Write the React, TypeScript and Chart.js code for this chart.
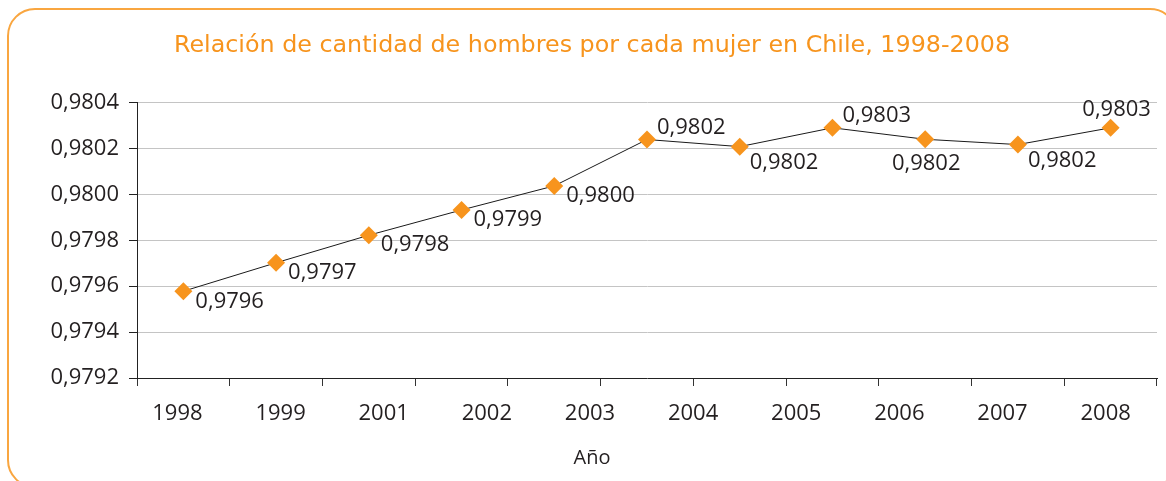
import { useEffect, useRef } from 'react';
import { Chart, registerables } from 'chart.js';

Chart.register(...registerables);

// ---- Data ----
const seriesYears = ['1998', '1999', '2000', '2001', '2002', '2003', '2004', '2005', '2006', '2007', '2008'];
const ratioValues = [0.979578, 0.979702, 0.979822, 0.979932, 0.980037, 0.980239, 0.980208, 0.98029, 0.98024, 0.980217, 0.98029];
const yearTickLabels = ['1998', '1999', '2001', '2002', '2003', '2004', '2005', '2006', '2007', '2008'];
const yTickValues = [0.9792, 0.9794, 0.9796, 0.9798, 0.98, 0.9802, 0.9804];
const labelPlacement = ['right', 'right', 'right', 'right', 'right', 'aboveRight', 'belowRight', 'aboveRight', 'below', 'belowRight', 'above'];

const TITLE = 'Relación de cantidad de hombres por cada mujer en Chile, 1998-2008';
const X_TITLE = 'Año';

const ORANGE = '#F7941D';
const TEXT = '#231F20';
const FONT = '"Open Sans", "Liberation Sans", sans-serif';

const fmt = (v: number) => v.toFixed(4).replace('.', ',');

const PLACEMENTS: Record<string, { align: CanvasTextAlign; dx: number; dy: number }> = {
  right: { align: 'left', dx: 12, dy: 10 },
  aboveRight: { align: 'left', dx: 10, dy: -12 },
  belowRight: { align: 'left', dx: 10, dy: 16 },
  below: { align: 'center', dx: 1, dy: 24 },
  above: { align: 'center', dx: 6, dy: -18 },
};

const valueLabelPlugin = {
  id: 'valueLabels',
  afterDatasetsDraw(chart: any) {
    const meta = chart.getDatasetMeta(0);
    const ctx = chart.ctx as CanvasRenderingContext2D;
    ctx.save();
    ctx.font = `22px ${FONT}`;
    ctx.fillStyle = TEXT;
    ctx.textBaseline = 'middle';
    meta.data.forEach((pt: any, i: number) => {
      const p = PLACEMENTS[labelPlacement[i]];
      ctx.textAlign = p.align;
      ctx.fillText(fmt(ratioValues[i]), pt.x + p.dx, pt.y + p.dy);
    });
    ctx.restore();
  },
};

export default function App() {
  const canvasRef = useRef<HTMLCanvasElement | null>(null);

  useEffect(() => {
    if (!canvasRef.current) return;
    const chart = new Chart(canvasRef.current, {
      type: 'line',
      data: {
        labels: seriesYears,
        datasets: [
          {
            data: ratioValues,
            borderColor: '#1A1A1A',
            borderWidth: 1,
            pointStyle: 'rectRot',
            pointRadius: 9,
            pointHoverRadius: 9,
            pointBackgroundColor: ORANGE,
            pointBorderColor: ORANGE,
            pointBorderWidth: 0,
            tension: 0,
            fill: false,
          },
        ],
      },
      options: {
        animation: false,
        responsive: true,
        maintainAspectRatio: false,
        layout: { padding: { left: 25, right: 7, top: 0, bottom: 0 } },
        plugins: {
          legend: { display: false },
          tooltip: { enabled: false },
          title: {
            display: true,
            text: TITLE,
            color: ORANGE,
            font: { family: '"DejaVu Sans", sans-serif', size: 23.8, weight: 'normal' },
            padding: { top: 32, bottom: 42 },
          },
          subtitle: {
            display: true,
            position: 'bottom',
            text: X_TITLE,
            color: TEXT,
            font: { family: FONT, size: 20, weight: 'normal' },
            padding: { top: 8, bottom: 11 },
          },
        },
        scales: {
          x: {
            type: 'category',
            position: 'bottom',
            weight: 0,
            offset: true,
            grid: {
              offset: true,
              drawOnChartArea: false,
              drawTicks: true,
              tickLength: 8,
              color: '#333333',
              lineWidth: 1,
            },
            border: { display: true, color: '#222222', width: 1 },
            ticks: { display: false },
            afterFit: (s: any) => {
              s.height = 8;
            },
          },
          xYears: {
            type: 'linear',
            position: 'bottom',
            weight: 1,
            min: -0.392,
            max: 9.498,
            grid: { display: false, drawTicks: false },
            border: { display: false },
            afterBuildTicks: (s: any) => {
              s.ticks = yearTickLabels.map((_, i) => ({ value: i }));
            },
            ticks: {
              autoSkip: false,
              maxRotation: 0,
              padding: 15,
              color: TEXT,
              font: { family: FONT, size: 22 },
              callback: (v: any) => yearTickLabels[Math.round(Number(v))] ?? '',
            },
            afterFit: (s: any) => {
              s.height = 52;
            },
          },
          y: {
            type: 'linear',
            min: 0.9792,
            max: 0.9804,
            afterBuildTicks: (s: any) => {
              s.ticks = yTickValues.map((v) => ({ value: v }));
            },
            grid: {
              color: (c: any) => (c.index === 0 ? 'rgba(0,0,0,0)' : '#C4C4C4'),
              tickColor: '#222222',
              tickLength: 8,
              lineWidth: 1,
            },
            border: { display: true, color: '#222222', width: 1 },
            ticks: {
              padding: 10,
              color: TEXT,
              font: { family: FONT, size: 22 },
              callback: (v: any) => fmt(Number(v)),
            },
            afterFit: (s: any) => {
              s.width = 112;
            },
          },
        },
      } as any,
      plugins: [valueLabelPlugin],
    });
    return () => chart.destroy();
  }, []);

  return (
    <div style={{ position: 'fixed', left: 0, top: 0, width: 1166, height: 481, overflow: 'hidden', background: '#fff' }}>
      <div
        style={{
          position: 'absolute',
          left: 7,
          top: 8,
          width: 1171,
          height: 480,
          boxSizing: 'border-box',
          border: '2px solid #F9A640',
          borderRadius: 28,
        }}
      />
      <div style={{ position: 'absolute', left: 0, top: 0, width: 1166, height: 481 }}>
        <canvas ref={canvasRef} />
      </div>
    </div>
  );
}
